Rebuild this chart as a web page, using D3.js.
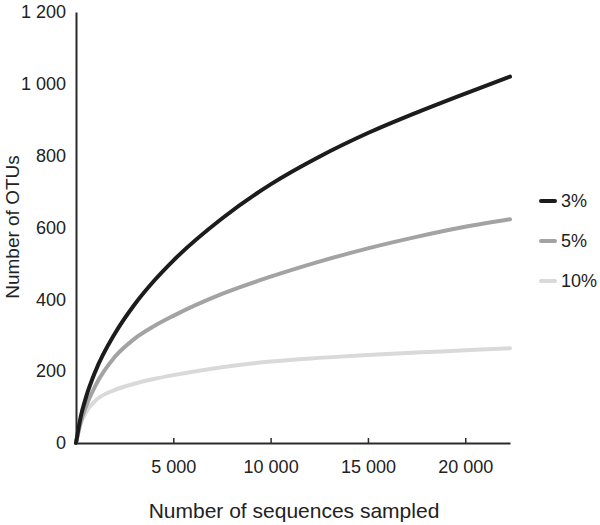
<!DOCTYPE html>
<html>
<head>
<meta charset="utf-8">
<script src="https://cdn.jsdelivr.net/npm/d3@7"></script>
<style>
  body { margin: 0; background: #fff; }
  text { font-family: "Liberation Sans", Arial, sans-serif; fill: #222; }
</style>
</head>
<body>
<svg id="chart" width="600" height="525"></svg>
<script>
const sampleSizes = [0, 250, 500, 1000, 2000, 3000, 4000, 5000, 7500, 10000, 12500, 15000, 17500, 20000, 22300];
const otu3  = [0, 75, 125, 200, 305, 385, 451, 508, 625, 720, 797, 863, 920, 973, 1020];
const otu5  = [0, 60, 100, 160, 240, 290, 325, 354, 415, 463, 505, 542, 574, 602, 623];
const otu10 = [0, 55, 85, 118, 148, 165, 178, 189, 211, 227, 237, 245, 252, 258, 264];
const seriesNames = ["3%", "5%", "10%"];
const seriesColors = ["#1c1c1c", "#a3a3a3", "#d9d9d9"];
const xTicks = [5000, 10000, 15000, 20000];
const yTicks = [0, 200, 400, 600, 800, 1000, 1200];

const series = [otu3, otu5, otu10];
const svg = d3.select("#chart");
const locale = d3.formatLocale({decimal: ".", thousands: " ", grouping: [3], currency: ["", ""]});
const fmt = locale.format(",d");

const x = d3.scaleLinear().domain([0, 22300]).range([76, 510]);
const y = d3.scaleLinear().domain([0, 1200]).range([443, 12]);

// axes
const xAxis = svg.append("g").attr("transform", `translate(0,${y(0)})`)
  .call(d3.axisBottom(x).tickValues(xTicks).tickSize(-5).tickSizeOuter(0).tickFormat(fmt).tickPadding(17));
xAxis.select(".domain").attr("stroke", "#2a2a2a").attr("stroke-width", 2);
xAxis.selectAll(".tick line").attr("stroke", "#2a2a2a").attr("stroke-width", 1.5);
xAxis.selectAll("text").attr("font-size", 18).attr("font-family", "Liberation Sans, Arial, sans-serif").attr("fill", "#222");

const yAxis = svg.append("g").attr("transform", `translate(${x(0)},0)`)
  .call(d3.axisLeft(y).tickValues(yTicks).tickSize(0).tickFormat(fmt).tickPadding(10));
yAxis.select(".domain").attr("stroke", "#2a2a2a").attr("stroke-width", 2);
yAxis.selectAll("text").attr("font-size", 18).attr("font-family", "Liberation Sans, Arial, sans-serif").attr("fill", "#222");

// lines
const line = d3.line().x((d, i) => x(sampleSizes[i])).y(d => y(d)).curve(d3.curveMonotoneX);
series.slice().reverse().forEach((s, k) => {
  const i = series.length - 1 - k;
  svg.append("path").datum(s).attr("d", line)
    .attr("fill", "none").attr("stroke", seriesColors[i]).attr("stroke-width", 4)
    .attr("stroke-linecap", "round");
});

// legend
const legendY = [201, 241, 281];
seriesNames.forEach((name, i) => {
  svg.append("line").attr("x1", 541).attr("x2", 555).attr("y1", legendY[i]).attr("y2", legendY[i])
    .attr("stroke", seriesColors[i]).attr("stroke-width", 4).attr("stroke-linecap", "round");
  svg.append("text").attr("x", 561).attr("y", legendY[i]).attr("dy", "0.35em")
    .attr("font-size", 18).text(name);
});

// titles
svg.append("text").attr("x", 294).attr("y", 518).attr("text-anchor", "middle")
  .attr("font-size", 21).text("Number of sequences sampled");
svg.append("text").attr("transform", "translate(19,227) rotate(-90)").attr("text-anchor", "middle")
  .attr("font-size", 19).text("Number of OTUs");
</script>
</body>
</html>
